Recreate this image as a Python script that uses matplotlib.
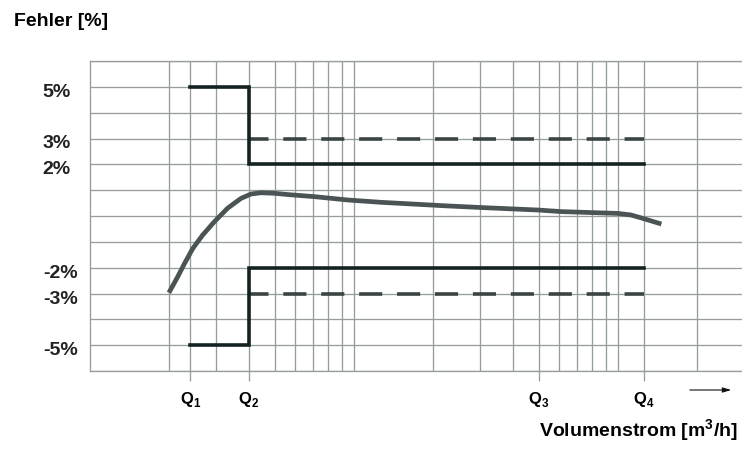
import numpy as np
import matplotlib
matplotlib.use('Agg')
import matplotlib.pyplot as plt
import matplotlib.ticker as mticker
import matplotlib.transforms as mtransforms

plt.rcParams['font.family'] = ['Liberation Sans', 'DejaVu Sans']
plt.rcParams['mathtext.fontset'] = 'custom'
plt.rcParams['mathtext.rm'] = 'Liberation Sans:bold'
plt.rcParams['mathtext.bf'] = 'Liberation Sans:bold'

# flow points Q1..Q4 (log axis)
q_names = ['1', '2', '3', '4']
q_values = [0.24, 0.4, 5.0, 12.5]

# max. permissible errors [%]
mpe_lower_range = 5
mpe_upper_range = 2
mpe_upper_range_warm = 3

# measured error curve
flow = [0.199, 0.215, 0.228, 0.245, 0.267, 0.296, 0.332, 0.373, 0.407, 0.444,
        0.499, 0.561, 0.707, 0.946, 1.265, 1.69, 2.26, 3.0, 5.0, 6.1, 8.1,
        10.0, 11.2, 12.4, 14.6]
error = [-2.97, -2.35, -1.84, -1.26, -0.74, -0.22, 0.30, 0.68, 0.85, 0.90,
         0.88, 0.83, 0.75, 0.62, 0.53, 0.46, 0.39, 0.33, 0.23, 0.17, 0.13,
         0.10, 0.04, -0.09, -0.31]

# labelled y ticks
y_ticks = [5, 3, 2, -2, -3, -5]
y_labels = ['5%', '3%', '2%', '-2%', '-3%', '-5%']

grid_c = '#979d9d'
solid_c = '#152222'
dash_c = '#3a4444'
curve_c = '#4b5454'

fig = plt.figure(figsize=(7.42, 4.5), dpi=100)
ax = fig.add_axes([90 / 742, 1 - 371 / 450, 1 - 90 / 742, 310 / 450])
ax.set_xscale('log')
ax.set_xlim(0.1, 29.5)
ax.set_ylim(-6, 6)

# grid: log decades plus the Q points
grid_x = list(np.arange(2, 10) / 10) + list(np.arange(1, 11)) + [20] + q_values
ax.set_xticks(grid_x, minor=True)
ax.xaxis.set_minor_formatter(mticker.NullFormatter())
ax.set_xticks(q_values)
ax.set_xticklabels([r'$\mathbf{Q}_{%s}$' % n for n in q_names])
ax.set_yticks(np.arange(-6, 7), minor=True)
ax.set_yticks(y_ticks)
ax.set_yticklabels(y_labels)
ax.grid(True, which='both', color=grid_c, lw=0.95)
ax.set_axisbelow(True)

ax.tick_params(axis='x', which='major', length=7.5, width=0.95, color=grid_c,
               pad=6, labelsize=12)
ax.tick_params(axis='x', which='minor', length=0)
ax.tick_params(axis='y', which='both', length=0)
ax.tick_params(axis='y', which='major', pad=34, labelsize=14, labelcolor='#222222')
shift = mtransforms.ScaledTranslation(0, -3.5 / 100, fig.dpi_scale_trans)
for lbl in ax.get_yticklabels():
    lbl.set_horizontalalignment('left')
    lbl.set_fontweight('bold')
    lbl.set_transform(lbl.get_transform() + shift)

for s in ['left', 'top', 'bottom']:
    ax.spines[s].set_color(grid_c)
    ax.spines[s].set_linewidth(0.95)
ax.spines['right'].set_visible(False)

q1, q2, q3, q4 = q_values
# limits of max. permissible error
for sgn in [1, -1]:
    ax.plot([q1, q2, q2, q4],
            [sgn * mpe_lower_range, sgn * mpe_lower_range,
             sgn * mpe_upper_range, sgn * mpe_upper_range],
            color=solid_c, lw=2.6, solid_joinstyle='miter', zorder=4)
    ax.plot([q2, q4], [sgn * mpe_upper_range_warm] * 2, color=dash_c, lw=2.6,
            linestyle=(1, (6.4, 4.1)), zorder=3)

ax.plot(flow, error, color=curve_c, lw=3.4, zorder=5, solid_capstyle='butt',
        solid_joinstyle='round')

fig.text(14 / 742, 1 - 26 / 450, 'Fehler [%]', fontsize=14, fontweight='bold',
         va='baseline', ha='left')
fig.text(738 / 742, 1 - 437 / 450, 'Volumenstrom [m$^{\\mathbf{3}}$/h]', fontsize=14,
         fontweight='bold', va='baseline', ha='right')
ax.annotate('', xy=(734 / 742, 1 - 390 / 450), xytext=(687 / 742, 1 - 390 / 450),
            xycoords='figure fraction', textcoords='figure fraction',
            arrowprops=dict(arrowstyle='-|>,head_length=0.5,head_width=0.15',
                            color='#111111', lw=0.8))

fig.savefig('out.png', dpi=100)
